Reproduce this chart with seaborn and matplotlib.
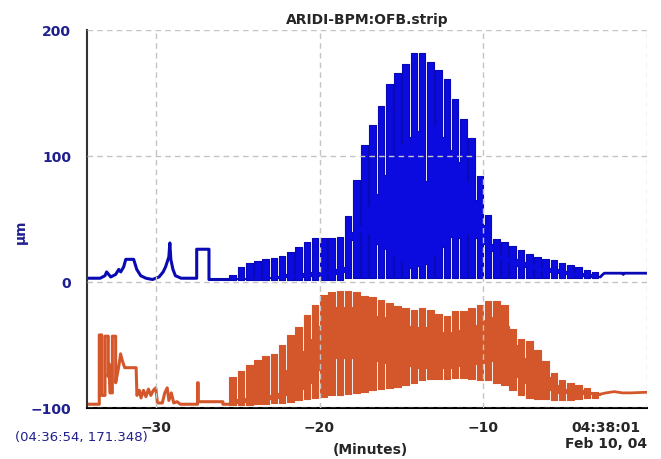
import numpy as np
import pandas as pd
import matplotlib
matplotlib.use('Agg')
import matplotlib.pyplot as plt
import seaborn as sns

# ARIDI-BPM:OFB strip chart, time in minutes before 04:38:01

# quiet part before the oscillation starts ..........................
blue_quiet_t = [-34.2, -33.4, -33.1, -33.0, -32.75, -32.45, -32.26, -32.14, -31.96, -31.83,
                -31.35, -31.16, -30.92, -30.6, -30.2, -29.8, -29.55, -29.4, -29.2, -29.14,
                -29.08, -28.95, -28.8, -28.45, -27.5, -27.5, -26.75, -26.75, -25.5]
blue_quiet_v = [3, 3, 5, 8, 4, 6, 10, 8, 12, 18,
                18, 10, 5, 3, 2, 4, 8, 12, 20, 31,
                18, 10, 5, 3, 3, 26, 26, 2, 2]

orange_quiet_t = [-34.2, -33.45, -33.45, -33.3, -33.3, -33.1, -33.1, -32.9, -32.9, -32.85,
                  -32.8, -32.65, -32.65, -32.45, -32.45, -32.3, -32.2, -32.15, -32.05, -31.9,
                  -31.2, -31.15, -31.0, -30.9, -30.75, -30.6, -30.45, -30.3, -30.15, -30.0,
                  -29.9, -29.6, -29.45, -29.3, -29.2, -29.05, -28.9, -28.7, -28.5, -27.45,
                  -27.45, -27.4, -27.4, -25.9, -25.9, -25.5]
orange_quiet_v = [-97, -97, -42, -42, -90, -90, -43, -43, -75, -65,
                  -88, -88, -43, -43, -80, -70, -62, -57, -62, -68,
                  -68, -90, -86, -92, -86, -91, -85, -90, -86, -84,
                  -96, -96, -88, -84, -94, -88, -96, -95, -97, -97,
                  -80, -80, -95, -95, -97, -97]

# oscillation, one entry per ~30 s cycle ............................
CYCLE_START = -25.5
CYCLE_LEN = 0.503

blue_peak = [5.5, 11.6, 14.8, 16.7, 18.3, 18.8, 20.9, 24, 28, 32, 34.7, 34.7, 35, 36,
             52, 81, 109, 125, 140, 157, 166, 173, 181.5, 181.5, 175, 168, 161, 145, 129,
             114, 84, 53, 34, 32, 28.6, 25.4, 22, 19.6, 18, 17.5, 14.8, 13.5, 11.7, 9.5, 8]
blue_hi_gap = [3, 3, 4, 4, 4, 5, 6, 6, 7, 8, 8, 9, 10, 12,
               40, 45, 60, 70, 85, 100, 110, 115, 120, 80, 125, 115, 105, 95, 80,
               65, 45, 30, 22, 20, 18, 16, 14, 12, 11, 10, 9, 8, 7, 6, 5]
blue_lo_gap = [2, 2, 2, 3, 3, 3, 4, 4, 4, 5, 5, 6, 6, 8,
               33, 40, 38, 30, 26, 21, 16, 11, 13, 14, 21, 28, 36, 35, 38,
               35, 30, 25, 18, 15, 13, 12, 10, 9, 8, 7, 6, 5, 5, 4, 4]
blue_floor = [1.5] * 14 + [3] * 31

orange_peak = [-75, -71, -66, -62, -59, -57, -50, -42, -35.5, -26, -18, -10, -8, -7.5,
               -7.5, -8, -11, -12, -14, -17, -19, -21, -22, -21, -22, -25, -27, -23, -23,
               -21, -18, -15, -15, -18, -37, -45, -47, -54, -63, -72, -78, -80, -82, -84, -87]
orange_hi_gap = [-93, -92, -91, -90, -90, -88, -70, -62, -55, -45, -35, -25, -20, -20,
                 -20, -22, -25, -27, -28, -30, -32, -35, -36, -36, -38, -40, -40, -38, -36,
                 -34, -30, -28, -30, -35, -50, -60, -62, -68, -75, -82, -85, -86, -86, -87, -88]
orange_lo_gap = [-96, -95, -94, -93, -93, -92, -90, -88, -85, -80, -70, -62, -60, -60,
                 -60, -61, -62, -63, -64, -65, -66, -67, -68, -68, -68, -68, -68, -67, -66,
                 -65, -64, -63, -64, -66, -75, -80, -82, -84, -86, -88, -88, -89, -89, -89, -90]
orange_floor = [-98, -98, -98, -97, -97, -96, -96, -95, -94, -93, -92, -91, -90, -90,
                -89, -88, -87, -86, -85, -84, -83, -82, -80, -78, -77, -77, -77, -76, -76,
                -77, -78, -78, -80, -82, -86, -90, -92, -93, -93, -94, -94, -94, -93, -92, -92]

# settled tail ........................................................
blue_tail_t = [-2.85, -2.7, -2.6, -1.5, -1.45, -1.4, 0]
blue_tail_v = [4, 6, 7, 7, 6, 7, 7]
orange_tail_t = [-2.85, -2.5, -2.0, -1.5, -1.0, 0]
orange_tail_v = [-89, -88, -87, -88, -88, -87.5]

BLUE = '#0b0be0'
BLUE_EDGE = '#0a0ab4'
ORANGE = '#d4572b'
NAVY = '#1f1f8f'


def build_cycles(peak, hi_gap, lo_gap, floor):
    x, up, lo = [], [], []
    for i in range(len(peak)):
        t = CYCLE_START + i * CYCLE_LEN
        x += [t, t + 0.8 * CYCLE_LEN]
        up += [peak[i], hi_gap[i]]
        lo += [floor[i], lo_gap[i]]
    x.append(CYCLE_START + len(peak) * CYCLE_LEN)
    up.append(hi_gap[-1])
    lo.append(lo_gap[-1])
    return np.array(x), np.array(lo), np.array(up)


sns.set_style('white')
plt.rcParams['font.family'] = ['DejaVu Sans']

fig = plt.figure(figsize=(6.61, 4.59), dpi=100)
ax = fig.add_axes([0.1316, 0.1111, 0.8472, 0.8235])

for qt, qv, c in [(blue_quiet_t, blue_quiet_v, BLUE_EDGE), (orange_quiet_t, orange_quiet_v, ORANGE)]:
    sns.lineplot(x=qt, y=qv, sort=False, estimator=None, color=c, lw=2.2, ax=ax)

for args, c, ec in [((blue_peak, blue_hi_gap, blue_lo_gap, blue_floor), BLUE, BLUE_EDGE),
                    ((orange_peak, orange_hi_gap, orange_lo_gap, orange_floor), ORANGE, ORANGE)]:
    x, lo, up = build_cycles(*args)
    ax.fill_between(x, lo, up, step='post', facecolor=c, edgecolor=ec, lw=0.8)

for tt, tv, c in [(blue_tail_t, blue_tail_v, BLUE_EDGE), (orange_tail_t, orange_tail_v, ORANGE)]:
    sns.lineplot(x=tt, y=tv, sort=False, estimator=None, color=c, lw=2.0, ax=ax)

ax.set_xlim(-34.2, 0)
ax.set_ylim(-100, 200)

ax.set_xticks([-30, -20, -10, 0])
ax.set_xticklabels(['\u221230', '\u221220', '\u221210', '04:38:01\nFeb 10, 04'],
                   fontweight='bold', fontsize=10)
last = ax.get_xticklabels()[-1]
last.set_ha('right')
last.set_multialignment('center')
ax.set_yticks([-100, 0, 100, 200])
ax.set_yticks([-50, 50, 150], minor=True)
ax.set_yticklabels(['\u2212100', '0', '100', '200'], fontweight='bold', fontsize=10, color=NAVY)
ax.tick_params(axis='y', which='major', length=10, width=1.2, pad=1.5, color='#333333')
ax.tick_params(axis='y', which='minor', length=5, width=1.2, color='#333333')
ax.tick_params(axis='x', which='major', length=7, width=1.2, pad=2, color='#333333')

ax.grid(True, which='major', ls=(0, (4, 3)), color='#c4c4c4', lw=1)
ax.set_axisbelow(False)
for s in ['top', 'right']:
    ax.spines[s].set_visible(False)
ax.spines['left'].set_color('#333333')
ax.spines['left'].set_linewidth(1.5)
ax.spines['bottom'].set_color('black')
ax.spines['bottom'].set_linewidth(1.5)
ax.set_xlabel('')
ax.set_ylabel('')

ax.set_title('ARIDI-BPM:OFB.strip', fontsize=10, fontweight='bold', pad=4)
fig.text(370 / 661, 1 - 450 / 459, '(Minutes)', ha='center', va='center',
         fontsize=10, fontweight='bold')
fig.text(21 / 661, 1 - 232 / 459, '\u03bcm', ha='center', va='center', rotation=90,
         fontsize=10, fontweight='bold', color=NAVY)
fig.text(15 / 661, 1 - 437 / 459, '(04:36:54, 171.348)', ha='left', va='center',
         fontsize=9.5, color=NAVY)

fig.savefig('out.png', dpi=100)
plt.close()
